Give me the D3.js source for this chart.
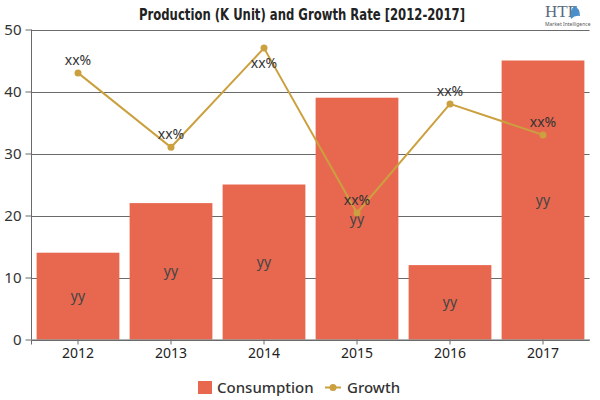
<!DOCTYPE html>
<html>
<head>
<meta charset="utf-8">
<script src="https://cdn.jsdelivr.net/npm/d3@7/dist/d3.min.js"></script>
<style>
  html, body { margin: 0; padding: 0; background: #fff; }
  svg { display: block; }
</style>
</head>
<body>
<svg id="chart" width="600" height="400"></svg>
<script>
const years = ["2012", "2013", "2014", "2015", "2016", "2017"];
const consumption = [14, 22, 25, 39, 12, 45];
const growth = [43, 31, 47, 20.4, 38, 33];
const barLabels = ["yy", "yy", "yy", "yy", "yy", "yy"];
const lineLabels = ["xx%", "xx%", "xx%", "xx%", "xx%", "xx%"];
const yTicks = [0, 10, 20, 30, 40, 50];
const titleText = "Production (K Unit) and Growth Rate [2012-2017]";
const legendNames = ["Consumption", "Growth"];

const barColor = "#e8684f";
const lineColor = "#cba03f";
const font = "'Noto Sans', 'Open Sans', sans-serif";

const svg = d3.select("#chart");

const x = d3.scaleBand().domain(years).range([31.5, 589.5]).paddingInner(0.11).paddingOuter(0.055);
const y = d3.scaleLinear().domain([0, 50]).range([339.5, 29.5]);

// gridlines
svg.append("g").selectAll("line").data(yTicks).join("line")
  .attr("x1", 31.5).attr("x2", 589.5)
  .attr("y1", d => Math.round(y(d)) + 0.5).attr("y2", d => Math.round(y(d)) + 0.5)
  .attr("stroke", "#6a6a6a").attr("stroke-width", 1);

// bars
svg.append("g").selectAll("rect").data(years).join("rect")
  .attr("x", d => x(d)).attr("width", x.bandwidth())
  .attr("y", (d, i) => y(consumption[i]))
  .attr("height", (d, i) => y(0) - y(consumption[i]))
  .attr("fill", barColor);

// bar labels
svg.append("g").selectAll("text").data(years).join("text")
  .attr("x", d => x(d) + x.bandwidth() / 2)
  .attr("y", (d, i) => (y(consumption[i]) + y(0)) / 2 + 5)
  .attr("text-anchor", "middle")
  .attr("font-family", font).attr("font-size", 14).attr("fill", "#444")
  .text((d, i) => barLabels[i]);

// y axis
const yAxis = d3.axisLeft(y).tickValues(yTicks).tickSize(6).tickPadding(4);
const gy = svg.append("g").attr("transform", "translate(31.5,0)").call(yAxis);
gy.select(".domain").attr("stroke", "#6a6a6a").attr("d", "M0,29.5V339.5");
gy.selectAll(".tick line").attr("stroke", "#6a6a6a");
gy.selectAll(".tick text").attr("font-family", font).attr("font-size", 15).attr("fill", "#333");

// x axis
const xAxis = d3.axisBottom(x).tickSize(5).tickPadding(4).tickSizeOuter(0);
const gx = svg.append("g").attr("transform", "translate(0,339.5)").call(xAxis);
gx.select(".domain").attr("stroke", "#6a6a6a");
gx.selectAll(".tick line").attr("stroke", "#6a6a6a");
gx.selectAll(".tick text").attr("font-family", font).attr("font-size", 14).attr("fill", "#222");
gx.append("line").attr("x1", 31.5).attr("x2", 31.5).attr("y1", 0).attr("y2", 5).attr("stroke", "#6a6a6a");

// line
const line = d3.line().x((d, i) => x(years[i]) + x.bandwidth() / 2).y(d => y(d));
svg.append("path").datum(growth).attr("d", line)
  .attr("fill", "none").attr("stroke", lineColor).attr("stroke-width", 2);
svg.append("g").selectAll("circle").data(growth).join("circle")
  .attr("cx", (d, i) => x(years[i]) + x.bandwidth() / 2)
  .attr("cy", d => y(d)).attr("r", 3.5).attr("fill", lineColor);

// line labels
svg.append("g").selectAll("text").data(growth).join("text")
  .attr("x", (d, i) => x(years[i]) + x.bandwidth() / 2)
  .attr("y", d => d > 45 ? y(d) + 20 : y(d) - 8)
  .attr("text-anchor", "middle")
  .attr("font-family", font).attr("font-size", 14).attr("fill", "#333")
  .text((d, i) => lineLabels[i]);

// title
svg.append("text").attr("x", 302).attr("y", 20).attr("text-anchor", "middle")
  .attr("font-family", "'DejaVu Sans Condensed', 'Liberation Sans Narrow', sans-serif")
  .attr("font-weight", "bold").attr("font-stretch", "condensed")
  .attr("font-size", 15).attr("fill", "#222")
  .attr("textLength", 326).attr("lengthAdjust", "spacingAndGlyphs")
  .text(titleText);

// logo
const logo = svg.append("g");
logo.append("text").attr("x", 545).attr("y", 17)
  .attr("font-family", "'Liberation Serif', serif").attr("font-size", 17).attr("fill", "#5a6b80")
  .text("HTF");
logo.append("path").attr("d", "M574,6 q6,2 6,10 q-5,-1 -9,3 q-2,-7 3,-13 z").attr("fill", "#4a8fc8");
logo.append("text").attr("x", 545).attr("y", 26)
  .attr("font-family", font).attr("font-size", 5).attr("fill", "#555")
  .text("Market Intelligence");

// legend
const lg = svg.append("g");
lg.append("rect").attr("x", 198).attr("y", 381).attr("width", 14).attr("height", 13).attr("fill", barColor);
lg.append("text").attr("x", 217).attr("y", 393)
  .attr("font-family", font).attr("font-size", 15).attr("fill", "#333").attr("font-weight", 500)
  .text(legendNames[0]);
lg.append("line").attr("x1", 325).attr("x2", 341).attr("y1", 387.5).attr("y2", 387.5)
  .attr("stroke", lineColor).attr("stroke-width", 2);
lg.append("circle").attr("cx", 333).attr("cy", 387.5).attr("r", 3.5).attr("fill", lineColor);
lg.append("text").attr("x", 347).attr("y", 393)
  .attr("font-family", font).attr("font-size", 15).attr("fill", "#333").attr("font-weight", 500)
  .text(legendNames[1]);
</script>
</body>
</html>
